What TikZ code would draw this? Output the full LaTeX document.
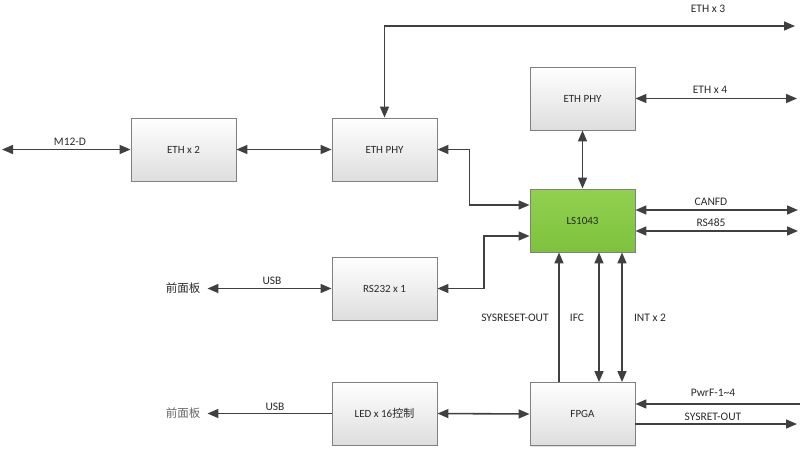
\documentclass[tikz,border=0pt]{standalone}
\usepackage{fontspec}
\setmainfont{Carlito}
\newfontfamily\cjk{Noto Sans CJK SC}
\usetikzlibrary{arrows.meta,calc,shadows}
\definecolor{lineg}{HTML}{404040}
\definecolor{boxb}{HTML}{808080}
\definecolor{txt}{HTML}{2A2A2A}
\definecolor{gtop}{HTML}{92D050}
\definecolor{gbot}{HTML}{7DC23C}
\tikzset{
  blk/.style={draw=boxb, line width=0.9pt, minimum width=105pt, minimum height=63pt,
    top color=white, bottom color=black!13, text=txt, font=\fontsize{11}{13}\selectfont,
    drop shadow={shadow xshift=1.2pt, shadow yshift=-1.2pt, opacity=0.25}},
  cpu/.style={blk, top color=gtop, bottom color=gbot, text=black!85},
  lbl/.style={text=txt, font=\fontsize{11.5}{13}\selectfont, inner sep=1pt},
  conn/.style={draw=lineg, line width=1.6pt, arrows={-Triangle[length=11pt,width=9pt]}},
  bconn/.style={draw=lineg, line width=1.6pt, arrows={Triangle[length=11pt,width=9pt]-Triangle[length=11pt,width=9pt]}},
}
\begin{document}
\begin{tikzpicture}[x=1pt,y=-1pt]
\useasboundingbox (0,0) rectangle (800,450);
% blocks
\node[blk] (ethx2) at (183.5,149.5) {ETH x 2};
\node[blk] (ethphyL) at (384.5,149.5) {ETH PHY};
\node[blk] (ethphyT) at (582.5,98.5) {ETH PHY};
\node[cpu] (ls) at (582.5,220.5) {LS1043};
\node[blk] (rs232) at (384.5,288.5) {RS232 x 1};
\node[blk] (led) at (384.5,413.5) {LED x 16{\cjk 控制}};
\node[blk] (fpga) at (582.5,414) {FPGA};
% panel texts
\node[text=txt, inner sep=0pt, font=\cjk\fontsize{11.5}{13}\selectfont] (fp1) at (183,288.5) {前面板};
\node[text=black!60, inner sep=0pt, font=\cjk\fontsize{11.5}{13}\selectfont] (fp2) at (183,413.5) {前面板};
% free ends
\coordinate (m12) at (2,149.5);
\coordinate (eth3) at (795,26);
\coordinate (eth4) at (797,98.5);
\coordinate (can) at (798,210);
\coordinate (rs485) at (798,231);
\coordinate (pwr) at (800,404);
\coordinate (sysret) at (797,424);
% connectors
\draw[bconn] (m12) -- (ethx2.west);
\draw[bconn] (ethx2.east) -- (ethphyL.west);
\draw[bconn] (ethphyL.north) |- (eth3);
\draw[bconn] (ethphyT.east) -- (eth4);
\draw[bconn] (ethphyT.south) -- (ls.north);
\draw[bconn] (ethphyL.east) -- ++(32,0) |- ($(ls.west)+(0,-15.5)$);
\draw[bconn] (rs232.east) -- ++(46.5,0) |- ($(ls.west)+(0,15.5)$);
\draw[bconn] ($(ls.east)+(0,-10.5)$) -- (can);
\draw[bconn] ($(ls.east)+(0,10.5)$) -- (rs485);
\draw[bconn] ([xshift=7pt]fp1.east) -- (rs232.west);
\draw[conn] (led.west) -- ([xshift=7pt]fp2.east);
\draw[bconn] (led.east) -- (fpga.west);
\draw[conn] ($(fpga.north)+(-23.5,0)$) -- ($(ls.south)+(-23.5,0)$);
\draw[bconn] ($(fpga.north)+(16.5,0)$) -- ($(ls.south)+(16.5,0)$);
\draw[bconn] ($(fpga.north)+(39.5,0)$) -- ($(ls.south)+(39.5,0)$);
\draw[conn] (pwr) -- ($(fpga.east)+(0,-10)$);
\draw[conn] ($(fpga.east)+(0,10)$) -- (sysret);
% labels
\node[lbl] (lm12) at (70,142) {M12-D};
\node[lbl] (leth3) at (708,9) {ETH x 3};
\node[lbl] (leth4) at (710,90) {ETH x 4};
\node[lbl] (lcan) at (711,202) {CANFD};
\node[lbl] (lrs485) at (711,223) {RS485};
\node[lbl] (lusb1) at (272,281) {USB};
\node[lbl] (lusb2) at (275,407) {USB};
\node[lbl] (lsysreset) at (515,318) {SYSRESET-OUT};
\node[lbl] (lifc) at (577,318) {IFC};
\node[lbl] (lint) at (650,318) {INT x 2};
\node[lbl] (lpwr) at (713,393) {PwrF-1\char`\~4};
\node[lbl] (lsysret) at (713,417) {SYSRET-OUT};
\end{tikzpicture}
\end{document}
